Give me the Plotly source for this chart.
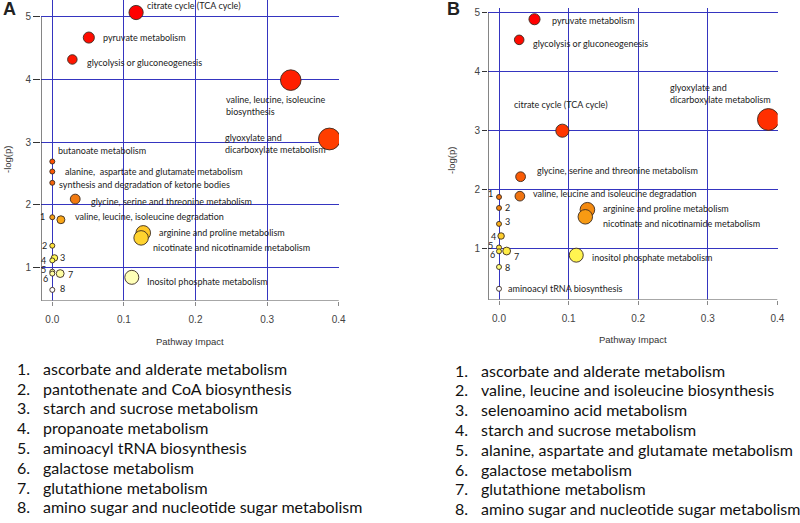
import numpy as np
import plotly.graph_objects as go

W, H = 800, 523

# ---------------- data: panel A ----------------
a_names = ["citrate cycle (TCA cycle)", "pyruvate metabolism", "glycolysis or gluconeogenesis",
           "valine, leucine, isoleucine<br>biosynthesis", "glyoxylate and<br>dicarboxylate metabolism",
           "butanoate metabolism", "alanine,  aspartate and glutamate metabolism",
           "synthesis and degradation of ketone bodies", "glycine, serine and threonine metabolism",
           "1", "valine, leucine, isoleucine degradation", "arginine and proline metabolism",
           "nicotinate and nicotinamide metabolism", "2", "3", "4", "5", "6", "7",
           "Inositol phosphate metabolism", "8"]
a_impact = [0.117, 0.051, 0.028, 0.333, 0.387, 0.0, 0.0, 0.0, 0.032, 0.0, 0.012, 0.127,
            0.124, 0.0, 0.003, 0.0, 0.0, 0.0, 0.011, 0.111, 0.0]
a_logp = [5.07, 4.67, 4.32, 3.99, 3.05, 2.69, 2.53, 2.35, 2.09, 1.80, 1.76, 1.55,
          1.47, 1.345, 1.15, 1.11, 0.93, 0.90, 0.90, 0.84, 0.64]
a_legend = ["ascorbate and alderate metabolism", "pantothenate and CoA biosynthesis",
            "starch and sucrose metabolism", "propanoate metabolism", "aminoacyl tRNA biosynthesis",
            "galactose metabolism", "glutathione metabolism",
            "amino sugar and nucleotide sugar metabolism"]

# ---------------- data: panel B ----------------
b_names = ["pyruvate metabolism", "glycolysis or gluconeogenesis", "citrate cycle (TCA cycle)",
           "glyoxylate and<br>dicarboxylate metabolism", "glycine, serine and threonine metabolism",
           "valine, leucine and isoleucine degradation", "1", "2", "3", "4", "5", "6", "7",
           "arginine and proline metabolism", "nicotinate and nicotinamide metabolism",
           "inositol phosphate metabolism", "8", "aminoacyl tRNA biosynthesis"]
b_impact = [0.051, 0.029, 0.091, 0.387, 0.031, 0.030, 0.0, 0.0, 0.0, 0.003, 0.0, 0.0, 0.011,
            0.127, 0.124, 0.111, 0.0, 0.0]
b_logp = [4.89, 4.54, 3.00, 3.19, 2.22, 1.89, 1.876, 1.69, 1.42, 1.215, 1.02, 0.955, 0.96,
          1.66, 1.54, 0.89, 0.69, 0.32]
b_legend = ["ascorbate and alderate metabolism", "valine, leucine and isoleucine biosynthesis",
            "selenoamino acid metabolism", "starch and sucrose metabolism",
            "alanine, aspartate and glutamate metabolism", "galactose metabolism",
            "glutathione metabolism", "amino sugar and nucleotide sugar metabolism"]

x_ticks = [0.0, 0.1, 0.2, 0.3, 0.4]
x_ticklabels = ["0.0", "0.1", "0.2", "0.3", "0.4"]
y_ticks = [1, 2, 3, 4, 5]

# ---------------- label placement (pixel offsets from the point) ----------------
a_lab = [(9, 7.5, "left"), (12, 0, "left"), (13, -3, "left"), (-67, -25, "left"),
         (-106, -5, "left"), (4, 10.7, "left"), (11, 0, "left"), (5, -2, "left"),
         (14, -2, "left"), (-5, 1, "right"), (12, 3, "left"), (14, 0, "left"),
         (10, -10, "left"), (-3, 0, "right"), (4, 0, "left"), (-4, 0, "right"),
         (-4, 2, "right"), (-2, -5, "right"), (6, -1, "left"), (13, -4, "left"), (6, 1, "left")]
b_lab = [(15, -1, "left"), (12, -4, "left"), (-50, 26, "left"), (-100, 26, "left"),
         (14, 6, "left"), (11, 3, "left"), (-4, 4, "right"), (4, 0, "left"), (4, 2, "left"),
         (-3, 0, "right"), (-4, 2, "right"), (-2, -3, "right"), (5, -5, "left"),
         (14, 1, "left"), (16, -7, "left"), (14, -2, "left"), (4, -1, "left"), (7, 0, "left")]

heat = [[0.0, "#ffffff"], [0.05, "#ffffb0"], [0.10, "#ffff60"], [0.15, "#ffe840"],
        [0.22, "#ffc020"], [0.28, "#f59010"], [0.35, "#f07010"], [0.45, "#ff5000"],
        [0.60, "#ff3300"], [1.0, "#ff0000"]]

GRID = "#3535c0"
LABFONT = dict(family="Lato", size=9, color="#222222")


def px(x):
    return x / W


def py(y):
    return 1 - y / H


fig = go.Figure()
annotations = []
shapes = []

panels = [
    dict(names=a_names, imp=a_impact, lp=a_logp, lab=a_lab, xa="x", ya="y",
         xdom=(41, 339), ydom=(0, 301), yr=(0.462, 5.27), ticklen=7,
         letter="A", letter_xy=(9, 9), ytitle_xy=(8, 160), xtitle_xy=(190, 341),
         legend=a_legend, leg_num_x=15, leg_txt_x=41, leg_y0=368.3, leg_dy=19.8),
    dict(names=b_names, imp=b_impact, lp=b_logp, lab=b_lab, xa="x2", ya="y2",
         xdom=(488, 777.7), ydom=(8, 300), yr=(0.13, 5.08), ticklen=5,
         letter="B", letter_xy=(453, 9), ytitle_xy=(452, 160), xtitle_xy=(633, 339),
         legend=b_legend, leg_num_x=453, leg_txt_x=479, leg_y0=370, leg_dy=19.8),
]

for i, p in enumerate(panels):
    imp = np.array(p["imp"])
    lp = np.array(p["lp"])
    sizes = 5 + 27 * np.sqrt(imp)
    fig.add_trace(go.Scatter(
        x=imp, y=lp, mode="markers", xaxis=p["xa"], yaxis=p["ya"], showlegend=False,
        marker=dict(size=sizes, color=lp, colorscale=heat, cmin=lp.min(), cmax=lp.max(),
                    line=dict(color="#3a2a20", width=0.9), opacity=1),
        hoverinfo="skip"))
    for name, xv, yv, (dx, dy, anc) in zip(p["names"], imp, lp, p["lab"]):
        annotations.append(dict(x=xv, y=yv, xref=p["xa"], yref=p["ya"], text=name,
                                showarrow=False, xanchor=anc, yanchor="middle", align="left",
                                xshift=dx, yshift=dy, font=LABFONT))
    xmin = -0.0158
    # y axis line from bottom up to 5, x axis line along bottom
    shapes.append(dict(type="line", xref=p["xa"], yref=p["ya"], x0=xmin, x1=xmin,
                       y0=p["yr"][0], y1=5, line=dict(color="#333333", width=1.2)))
    shapes.append(dict(type="line", xref=p["xa"], yref=p["ya"], x0=xmin, x1=0.4,
                       y0=p["yr"][0], y1=p["yr"][0], line=dict(color="#8a8a8a", width=1.6)))
    # letters and titles
    annotations.append(dict(x=px(p["letter_xy"][0]), y=py(p["letter_xy"][1]), xref="paper",
                            yref="paper", text="<b>%s</b>" % p["letter"], showarrow=False,
                            xanchor="center", yanchor="middle",
                            font=dict(family="Liberation Sans", size=18, color="#222222")))
    annotations.append(dict(x=px(p["ytitle_xy"][0]), y=py(p["ytitle_xy"][1]), xref="paper",
                            yref="paper", text="-log(p)", showarrow=False, textangle=-90,
                            xanchor="center", yanchor="middle",
                            font=dict(family="Liberation Sans", size=9.5, color="#333333")))
    annotations.append(dict(x=px(p["xtitle_xy"][0]), y=py(p["xtitle_xy"][1]), xref="paper",
                            yref="paper", text="Pathway Impact", showarrow=False,
                            xanchor="center", yanchor="middle",
                            font=dict(family="Liberation Sans", size=9.5, color="#333333")))
    # numbered legend list
    for k, t in enumerate(p["legend"]):
        yy = py(p["leg_y0"] + k * p["leg_dy"])
        annotations.append(dict(x=px(p["leg_num_x"]), y=yy, xref="paper", yref="paper",
                                text="%d." % (k + 1), showarrow=False, xanchor="left",
                                yanchor="middle",
                                font=dict(family="Lato", size=16, color="#111111")))
        annotations.append(dict(x=px(p["leg_txt_x"]), y=yy, xref="paper", yref="paper",
                                text=t, showarrow=False, xanchor="left", yanchor="middle",
                                font=dict(family="Lato", size=16, color="#111111")))

    axx = dict(domain=[px(p["xdom"][0]), px(p["xdom"][1])], range=[xmin, 0.4004],
               tickvals=x_ticks, ticktext=x_ticklabels, showgrid=True, gridcolor=GRID,
               gridwidth=1, zeroline=False, showline=False, ticks="outside", ticklen=4,
               tickcolor="#8a8a8a", ticklabelstandoff=5, automargin=False,
               tickfont=dict(family="Liberation Sans", size=10, color="#444444"),
               anchor=p["ya"], fixedrange=True)
    axy = dict(domain=[py(p["ydom"][1]), py(p["ydom"][0])], range=list(p["yr"]),
               tickvals=y_ticks, showgrid=True, gridcolor=GRID, gridwidth=1, zeroline=False,
               showline=False, ticks="outside", ticklen=p["ticklen"], tickcolor="#333333",
               automargin=False,
               tickfont=dict(family="Liberation Sans", size=10, color="#444444"),
               anchor=p["xa"], fixedrange=True)
    if i == 0:
        fig.update_layout(xaxis=axx, yaxis=axy)
    else:
        fig.update_layout(xaxis2=axx, yaxis2=axy)

fig.update_layout(width=W, height=H, margin=dict(l=0, r=0, t=0, b=0, autoexpand=False),
                  paper_bgcolor="white", plot_bgcolor="white",
                  annotations=annotations, shapes=shapes, showlegend=False)

fig.write_html("out.html", config={"displayModeBar": False},
               post_script="document.body.style.margin='0';document.body.style.padding='0';")
